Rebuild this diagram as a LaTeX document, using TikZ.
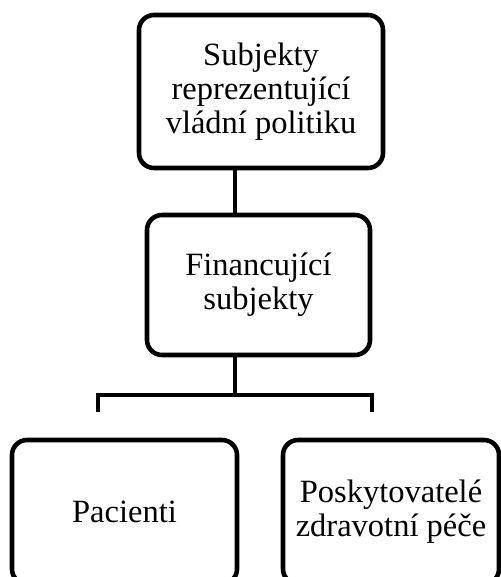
\documentclass[tikz,border=0pt]{standalone}
\usepackage{fontspec}
\setmainfont{Liberation Serif}
\usetikzlibrary{positioning}

\begin{document}
\begin{tikzpicture}[
  x=0.02cm, y=-0.02cm,
  every path/.style={
    line width=2.6pt,
    black
  },
  unitbox/.style={
    draw,
    rounded corners=0.3cm,
    align=center,
    font=\fontsize{18.5}{19.5}\selectfont,
    inner sep=0pt
  }
]
  \useasboundingbox (0,0) rectangle (500,577);
  \node[unitbox, minimum width=244*0.02cm, minimum height=153*0.02cm] (vlada) at (261,91.5) {Subjekty\\reprezentující\\vládní politiku};
  \node[unitbox, minimum width=223*0.02cm, minimum height=140*0.02cm] (financ) at (258.5,285) {Financující\\subjekty};
  \node[unitbox, minimum width=225*0.02cm, minimum height=144*0.02cm] (pacienti) at (124.5,512) {Pacienti};
  \node[unitbox, minimum width=216*0.02cm, minimum height=144*0.02cm] (poskyt) at (391,512) {Poskytovatelé\\zdravotní péče};
  \coordinate (joint) at (235,395);
  \coordinate (barL) at (98,412);
  \coordinate (barR) at (372,412);
  \draw (vlada.south -| joint) -- (financ.north -| joint);
  \draw (financ.south -| joint) -- (joint);
  \draw (barL) -- (barL |- joint) -- (barR |- joint) -- (barR);
\end{tikzpicture}
\end{document}
